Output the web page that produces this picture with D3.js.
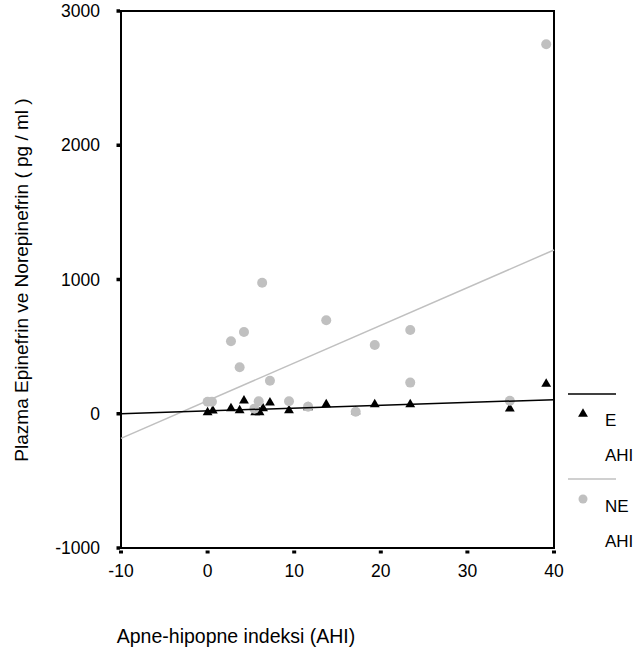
<!DOCTYPE html>
<html>
<head>
<meta charset="utf-8">
<script src="https://cdn.jsdelivr.net/npm/d3@7"></script>
<style>
  body { margin: 0; background: #fff; }
  text { font-family: "Liberation Sans", Arial, sans-serif; fill: #000; }
</style>
</head>
<body>
<div id="chart"></div>
<script>
// AHI values and plasma levels
const ahiE = [0, 0.6, 2.7, 3.7, 4.2, 5.5, 6.0, 6.4, 7.2, 9.4, 11.6, 13.7, 17.1, 19.3, 23.4, 34.9, 39.1]
const epi = [10, 23, 40, 25, 97, 10, 10, 40, 82, 25, 48, 70, 18, 70, 70, 38, 222]

const ahiNE = [0, 0.5, 2.7, 3.7, 4.2, 5.4, 5.9, 6.3, 7.2, 9.4, 11.6, 13.7, 17.1, 19.3, 23.4, 23.4, 34.9, 39.1]
const norepi = [90, 90, 540, 346, 609, 38, 93, 976, 246, 93, 53, 696, 15, 512, 624, 232, 97, 2752]

// fit lines: [intercept, slope]
const fitE = [21, 2.1]
const fitNE = [97.6, 28.06]

const xTicks = [-10, 0, 10, 20, 30, 40]
const yTicks = [-1000, 0, 1000, 2000, 3000]

const W = 639, H = 656
const margin = {top: 11, right: 85, bottom: 108, left: 121},
    width = W - margin.left - margin.right,
    height = H - margin.top - margin.bottom;

const svg = d3.select("#chart")
    .append("svg")
    .attr("width", W)
    .attr("height", H)

const g = svg.append("g")
    .attr("transform", `translate(${margin.left}, ${margin.top})`);

const x = d3.scaleLinear().domain([-10, 40]).range([0, width])
const y = d3.scaleLinear().domain([-1000, 3000]).range([height, 0])

// frame
g.append("rect")
    .attr("x", 0).attr("y", 0)
    .attr("width", width).attr("height", height)
    .attr("fill", "none")
    .attr("stroke", "#000")
    .attr("stroke-width", 2)

// y ticks: small squares left of axis
g.selectAll(".ytick")
    .data(yTicks)
    .enter().append("rect")
    .attr("x", -4.5)
    .attr("y", d => y(d) - 1.75)
    .attr("width", 3.5)
    .attr("height", 3.5)
    .attr("fill", "#000")

g.selectAll(".ylab")
    .data(yTicks)
    .enter().append("text")
    .attr("x", -21)
    .attr("y", d => y(d))
    .attr("dy", "0.35em")
    .attr("text-anchor", "end")
    .style("font-size", "17.5px")
    .text(d => d)

// x ticks: small squares below axis
g.selectAll(".xtick")
    .data(xTicks)
    .enter().append("rect")
    .attr("x", d => x(d) - 2)
    .attr("y", height + 2.5)
    .attr("width", 4)
    .attr("height", 3)
    .attr("fill", "#000")

g.selectAll(".xlab")
    .data(xTicks)
    .enter().append("text")
    .attr("x", d => x(d))
    .attr("y", height + 29)
    .attr("text-anchor", "middle")
    .style("font-size", "17.5px")
    .text(d => d)

// axis titles
svg.append("text")
    .attr("transform", "translate(28, 280) rotate(-90)")
    .attr("text-anchor", "middle")
    .style("font-size", "19px")
    .text("Plazma Epinefrin ve Norepinefrin ( pg / ml )")

svg.append("text")
    .attr("x", 236)
    .attr("y", 643)
    .attr("text-anchor", "middle")
    .style("font-size", "19.5px")
    .text("Apne-hipopne indeksi (AHI)")

// points
const tri = d3.symbol().type(d3.symbolTriangle).size(42)

g.append("g")
    .selectAll("path")
    .data(ahiE)
    .enter().append("path")
    .attr("d", tri)
    .attr("transform", (d, i) => `translate(${x(d)}, ${y(epi[i])})`)
    .attr("fill", "#000")

g.append("g")
    .selectAll("circle")
    .data(ahiNE)
    .enter().append("circle")
    .attr("cx", d => x(d))
    .attr("cy", (d, i) => y(norepi[i]))
    .attr("r", 5)
    .attr("fill", "#c0c0c0")

// fit lines
const fitLine = (f) => [[-10, f[0] - 10 * f[1]], [40, f[0] + 40 * f[1]]]

g.append("line")
    .datum(fitLine(fitNE))
    .attr("x1", d => x(d[0][0])).attr("y1", d => y(d[0][1]))
    .attr("x2", d => x(d[1][0])).attr("y2", d => y(d[1][1]))
    .attr("stroke", "#c0c0c0")
    .attr("stroke-width", 1.5)

g.append("line")
    .datum(fitLine(fitE))
    .attr("x1", d => x(d[0][0])).attr("y1", d => y(d[0][1]))
    .attr("x2", d => x(d[1][0])).attr("y2", d => y(d[1][1]))
    .attr("stroke", "#000")
    .attr("stroke-width", 1.5)

// legend
const lg = svg.append("g")

lg.append("line")
    .attr("x1", 568).attr("x2", 616).attr("y1", 394).attr("y2", 394)
    .attr("stroke", "#000").attr("stroke-width", 1.5)
lg.append("path")
    .attr("d", tri)
    .attr("transform", "translate(583, 414)")
    .attr("fill", "#000")
lg.append("text").attr("x", 605).attr("y", 426).style("font-size", "17px").text("E")
lg.append("text").attr("x", 605).attr("y", 461).style("font-size", "17px").text("AHI")

lg.append("line")
    .attr("x1", 568).attr("x2", 616).attr("y1", 479).attr("y2", 479)
    .attr("stroke", "#c0c0c0").attr("stroke-width", 1.5)
lg.append("circle")
    .attr("cx", 583).attr("cy", 499).attr("r", 4.5)
    .attr("fill", "#c0c0c0")
lg.append("text").attr("x", 605).attr("y", 512).style("font-size", "17px").text("NE")
lg.append("text").attr("x", 605).attr("y", 547).style("font-size", "17px").text("AHI")
</script>
</body>
</html>
